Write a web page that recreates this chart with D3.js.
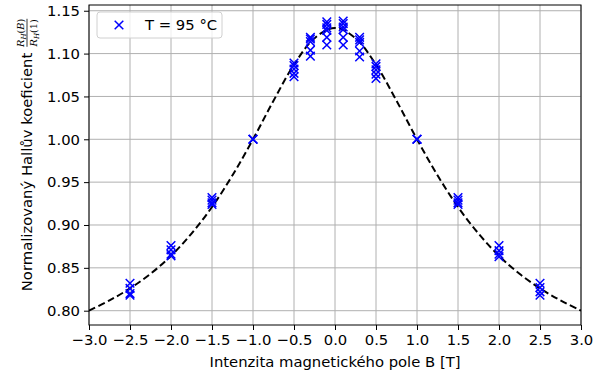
<!DOCTYPE html>
<html>
<head>
<meta charset="utf-8">
<script src="https://cdn.jsdelivr.net/npm/d3@7"></script>
<style>
  html, body { margin: 0; padding: 0; background: #fff; }
  svg { display: block; font-family: "DejaVu Sans", sans-serif; }
</style>
</head>
<body>
<svg id="chart" width="601" height="372"></svg>
<script>
// Measured field values B [T] and normalized Hall coefficient R_H(B)/R_H(1)
const measuredB = [
  -2.5, -2.5, -2.5, -2.5,
  -2.0, -2.0, -2.0, -2.0,
  -1.5, -1.5, -1.5, -1.5,
  -1.0, -1.0, -1.0,
  -0.5, -0.5, -0.5, -0.5, -0.5,
  -0.3, -0.3, -0.3, -0.3, -0.3,
  -0.1, -0.1, -0.1, -0.1, -0.1, -0.1,
   0.1,  0.1,  0.1,  0.1,  0.1,  0.1,
   0.3,  0.3,  0.3,  0.3,  0.3,
   0.5,  0.5,  0.5,  0.5,  0.5,
   1.0,  1.0,  1.0,
   1.5,  1.5,  1.5,  1.5,
   2.0,  2.0,  2.0,  2.0,
   2.5,  2.5,  2.5,  2.5
];
const measuredR = [
  0.832, 0.826, 0.820, 0.818,
  0.876, 0.871, 0.866, 0.864,
  0.932, 0.929, 0.926, 0.924,
  1.000, 1.000, 1.000,
  1.089, 1.086, 1.082, 1.077, 1.073,
  1.119, 1.117, 1.114, 1.104, 1.097,
  1.137, 1.134, 1.130, 1.127, 1.119, 1.110,
  1.138, 1.135, 1.131, 1.128, 1.119, 1.110,
  1.119, 1.116, 1.113, 1.103, 1.096,
  1.088, 1.085, 1.081, 1.076, 1.071,
  1.000, 1.000, 1.000,
  0.932, 0.929, 0.926, 0.924,
  0.876, 0.870, 0.866, 0.863,
  0.832, 0.827, 0.822, 0.818
];

// Fitted curve (dashed)
const fitB = [-3.0, -2.75, -2.5, -2.25, -2.0, -1.75, -1.5, -1.25, -1.0, -0.75, -0.5, -0.25, 0.0,
               0.25, 0.5, 0.75, 1.0, 1.25, 1.5, 1.75, 2.0, 2.25, 2.5, 2.75, 3.0];
const fitR = [0.800, 0.812, 0.826, 0.843, 0.864, 0.890, 0.921, 0.958, 1.000, 1.045, 1.087, 1.118, 1.130,
              1.118, 1.087, 1.045, 1.000, 0.958, 0.921, 0.890, 0.864, 0.843, 0.826, 0.812, 0.800];

const xTicks = [-3.0, -2.5, -2.0, -1.5, -1.0, -0.5, 0.0, 0.5, 1.0, 1.5, 2.0, 2.5, 3.0];
const yTicks = [0.80, 0.85, 0.90, 0.95, 1.00, 1.05, 1.10, 1.15];

const legendLabel = "T = 95 °C";
const xLabel = "Intenzita magnetického pole B [T]";
const yLabel = "Normalizovaný Hallův koeficient";

const svg = d3.select("#chart");
const margin = { left: 89, right: 20, top: 5, bottom: 47 };
const W = 601, H = 372;
const plotW = W - margin.left - margin.right;
const plotH = H - margin.top - margin.bottom;

const x = d3.scaleLinear().domain([-3, 3]).range([margin.left, margin.left + plotW]);
const y = d3.scaleLinear().domain([0.7833, 1.1567]).range([margin.top + plotH, margin.top]);

const fmtMinus = s => s.replace("-", "\u2212");
const fontSize = 14.8;

// Grid
const grid = svg.append("g").attr("class", "grid");
grid.selectAll("line.gx").data(xTicks).join("line")
  .attr("x1", d => x(d)).attr("x2", d => x(d))
  .attr("y1", margin.top).attr("y2", margin.top + plotH)
  .attr("stroke", "#b0b0b0").attr("stroke-width", 1);
grid.selectAll("line.gy").data(yTicks).join("line")
  .attr("y1", d => y(d)).attr("y2", d => y(d))
  .attr("x1", margin.left).attr("x2", margin.left + plotW)
  .attr("stroke", "#b0b0b0").attr("stroke-width", 1);

// Clip for plot content
svg.append("clipPath").attr("id", "clip").append("rect")
  .attr("x", margin.left).attr("y", margin.top).attr("width", plotW).attr("height", plotH);

// Dashed fit
const line = d3.line().x((d, i) => x(fitB[i])).y((d, i) => y(fitR[i])).curve(d3.curveCatmullRom.alpha(0.5));
svg.append("path")
  .attr("clip-path", "url(#clip)")
  .attr("d", line(fitB))
  .attr("fill", "none").attr("stroke", "#000").attr("stroke-width", 2)
  .attr("stroke-dasharray", "7,3.5");

// Cross markers
const s = 4.3;
const crossPath = (cx, cy) => `M${cx - s},${cy - s}L${cx + s},${cy + s}M${cx - s},${cy + s}L${cx + s},${cy - s}`;
svg.append("g").selectAll("path").data(measuredB).join("path")
  .attr("d", (d, i) => crossPath(x(d), y(measuredR[i])))
  .attr("stroke", "#0000ff").attr("stroke-width", 1.5).attr("fill", "none");

// Axes
const xAxis = d3.axisBottom(x).tickValues(xTicks).tickFormat(d => fmtMinus(d3.format(".1f")(d))).tickSizeOuter(0).tickSize(5).tickPadding(4);
const yAxis = d3.axisLeft(y).tickValues(yTicks).tickFormat(d => d3.format(".2f")(d)).tickSizeOuter(0).tickSize(5).tickPadding(4);
const gx = svg.append("g").attr("transform", `translate(0,${margin.top + plotH})`).call(xAxis);
const gy = svg.append("g").attr("transform", `translate(${margin.left},0)`).call(yAxis);
[gx, gy].forEach(g => {
  g.select(".domain").remove();
  g.selectAll("text").attr("font-size", fontSize).attr("font-family", "DejaVu Sans").attr("fill", "#000");
  g.selectAll("line").attr("stroke", "#000").attr("stroke-width", 1);
});

// Frame
svg.append("rect").attr("x", margin.left).attr("y", margin.top).attr("width", plotW).attr("height", plotH)
  .attr("fill", "none").attr("stroke", "#000").attr("stroke-width", 1);

// X label
svg.append("text").attr("x", margin.left + plotW / 2).attr("y", 367)
  .attr("text-anchor", "middle").attr("font-size", fontSize).text(xLabel);

// Y label with fraction
const yl = svg.append("g").attr("transform", `translate(32, ${margin.top + plotH / 2 + 7}) rotate(-90)`);
const mainT = yl.append("text").attr("x", 0).attr("y", 0).attr("text-anchor", "middle")
  .attr("font-size", fontSize).text(yLabel);
const tw = mainT.node().getComputedTextLength();
const fracX = tw / 2 + 6;
const fr = yl.append("g").attr("transform", `translate(${fracX + 14}, -5)`);
const fracFont = 9.8;
const numT = fr.append("text").attr("text-anchor", "middle").attr("y", -3).attr("font-size", fracFont).attr("font-family", "DejaVu Serif");
numT.append("tspan").attr("font-style", "italic").text("R");
numT.append("tspan").attr("font-style", "italic").attr("font-size", 7).attr("dy", 2).text("H");
numT.append("tspan").attr("dy", -2).text("(");
numT.append("tspan").attr("font-style", "italic").text("B");
numT.append("tspan").text(")");
const denT = fr.append("text").attr("text-anchor", "middle").attr("y", 10).attr("font-size", fracFont).attr("font-family", "DejaVu Serif");
denT.append("tspan").attr("font-style", "italic").text("R");
denT.append("tspan").attr("font-style", "italic").attr("font-size", 7).attr("dy", 2).text("H");
denT.append("tspan").attr("dy", -2).text("(1)");
fr.append("line").attr("x1", -14).attr("x2", 14).attr("y1", 0).attr("y2", 0).attr("stroke", "#000").attr("stroke-width", 0.8);

// Legend
const lg = svg.append("g");
lg.append("rect").attr("x", 97).attr("y", 12).attr("width", 125).attr("height", 26).attr("rx", 3)
  .attr("fill", "#fff").attr("fill-opacity", 0.8).attr("stroke", "#d0d0d0").attr("stroke-width", 1);
lg.append("path").attr("d", crossPath(119, 25)).attr("stroke", "#0000ff").attr("stroke-width", 1.5);
lg.append("text").attr("x", 145).attr("y", 30).attr("font-size", fontSize).text(legendLabel);
</script>
</body>
</html>
